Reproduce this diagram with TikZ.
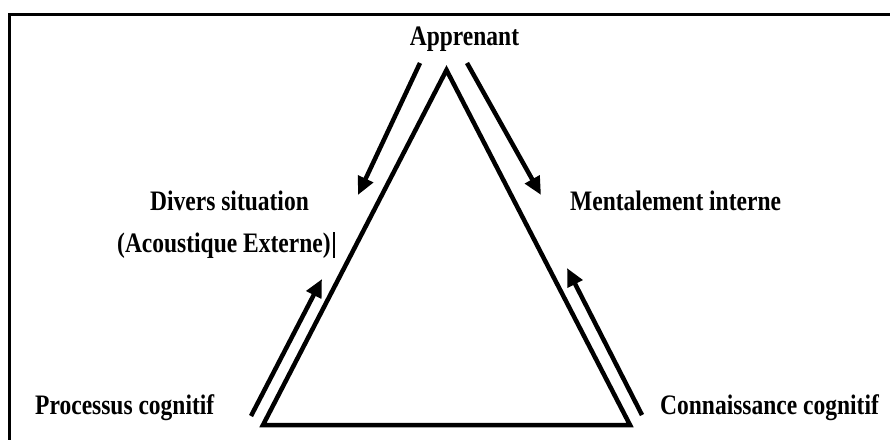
\documentclass[tikz,border=0pt]{standalone}
\usepackage{fontspec}
\setmainfont{Liberation Serif}
\usetikzlibrary{arrows.meta}
\newcommand{\tallx}[1]{\scalebox{1}[1.2]{#1}}
\begin{document}
\begin{tikzpicture}[x=1pt,y=-1pt,
  lbl/.style={inner sep=0pt,font=\fontsize{23.5}{28}\selectfont\bfseries},
  tri/.style={line width=4.5pt,line join=miter},
  flow/.style={line width=4.5pt,-{Triangle[length=18pt,width=16pt]}},
  frame/.style={line width=3pt}]
\useasboundingbox (0,0) rectangle (890,439);
% frame
\coordinate (fr) at (891,14);
\coordinate (fc) at (9,14);
\coordinate (fb) at (9,440);
\draw[frame] (fr) -- (fc) -- (fb);
% triangle
\coordinate (apex) at (446.5,70);
\coordinate (bl) at (263,425);
\coordinate (br) at (630,425);
\draw[tri] (apex) -- (bl) -- (br) -- cycle;
% labels
\node[lbl,anchor=base] (appr) at (464.5,45) {\tallx{Apprenant}};
\node[lbl,anchor=base west] (divers) at (150,210) {\tallx{Divers situation}};
\node[lbl,anchor=base west] (acous) at (117,252) {\tallx{(Acoustique Externe)}};
\node[lbl,anchor=base west] (mental) at (570,210) {\tallx{Mentalement interne}};
\node[lbl,anchor=base west] (proc) at (35,414) {\tallx{Processus cognitif}};
\node[lbl,anchor=base west] (conn) at (660,414) {\tallx{Connaissance cognitif}};
% cursor bar
\coordinate (cur1) at ([xshift=3pt]acous.east |- 0,232);
\coordinate (cur2) at ([xshift=3pt]acous.east |- 0,258);
\draw[line width=1.5pt] (cur1) -- (cur2);
% arrows
\coordinate (a1s) at (420,63);
\coordinate (a1e) at (358,195);
\coordinate (a2s) at (467,63);
\coordinate (a2e) at (541,195);
\coordinate (a3s) at (251,416);
\coordinate (a3e) at (322,279);
\coordinate (a4s) at (642,415);
\coordinate (a4e) at (567,268);
\draw[flow] (a1s) -- (a1e);
\draw[flow] (a2s) -- (a2e);
\draw[flow] (a3s) -- (a3e);
\draw[flow] (a4s) -- (a4e);
\end{tikzpicture}
\end{document}
